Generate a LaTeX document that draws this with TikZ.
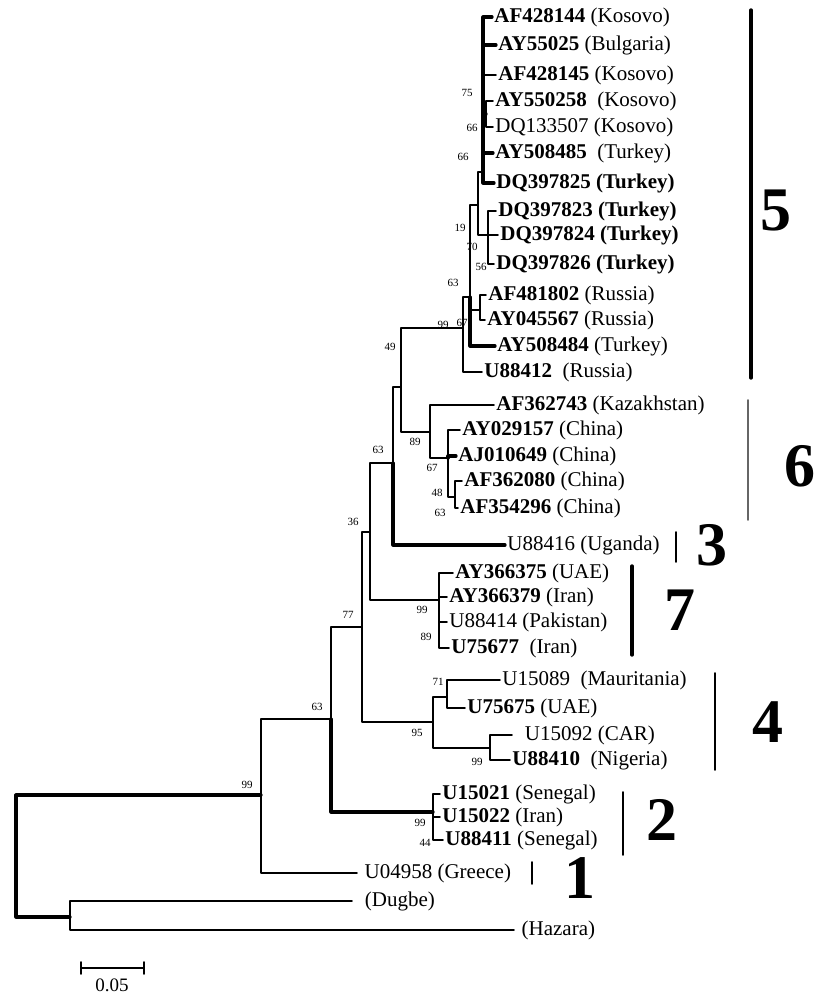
\documentclass[tikz,border=0pt]{standalone}
\usepackage{fontspec}
\setmainfont{Liberation Serif}
\usetikzlibrary{positioning}

\begin{document}
\begin{tikzpicture}[line cap=round,line join=round,x=0.5pt,y=-0.5pt,
  br/.style={line width=0.9pt},
  thk/.style={line width=1.6pt},
  tip/.style={anchor=west,inner sep=1pt,font=\fontsize{10.5}{12}\selectfont},
  bs/.style={inner sep=0pt,font=\fontsize{5.5}{6}\selectfont},
  clade/.style={font=\fontsize{31}{31}\selectfont\bfseries},
  bar/.style={line width=0.8pt},
  barthk/.style={line width=1.7pt}]
\useasboundingbox (0,0) rectangle (819,997);
% internal nodes
\coordinate (root) at (16,856);
\coordinate (ndh) at (70,917);
\coordinate (n99a) at (261,795);
\coordinate (n63a) at (331,719);
\coordinate (n77) at (362,627);
\coordinate (n36) at (370,532);
\coordinate (n63b) at (393,463);
\coordinate (n49) at (401,387);
\coordinate (n99u) at (463,328);
\coordinate (n70) at (470,297);
\coordinate (n19) at (478,205);
\coordinate (n75) at (483,172);
\coordinate (n66a) at (486,114);
\coordinate (n56) at (488,235);
\coordinate (n67r) at (480,310);
\coordinate (n89) at (430,432);
\coordinate (n67b) at (448,458);
\coordinate (n48) at (455,497);
\coordinate (n99d) at (439,600);
\coordinate (n95) at (433,722);
\coordinate (n71) at (447,697);
\coordinate (n99c) at (490,748);
\coordinate (n99b) at (433,812);
% tips
\node[tip] (AF428144) at (492,17) {\textbf{AF428144} (Kosovo)};
\node[tip] (AY55025) at (496,45) {\textbf{AY55025} (Bulgaria)};
\node[tip] (AF428145) at (496,75) {\textbf{AF428145} (Kosovo)};
\node[tip] (AY550258) at (493,101) {\textbf{AY550258}\ \ (Kosovo)};
\node[tip] (DQ133507) at (493,127) {DQ133507 (Kosovo)};
\node[tip] (AY508485) at (493,153) {\textbf{AY508485}\ \ (Turkey)};
\node[tip] (DQ397825) at (494,183) {\textbf{DQ397825 (Turkey)}};
\node[tip] (DQ397823) at (496,211) {\textbf{DQ397823 (Turkey)}};
\node[tip] (DQ397824) at (498,235) {\textbf{DQ397824 (Turkey)}};
\node[tip] (DQ397826) at (494,264) {\textbf{DQ397826 (Turkey)}};
\node[tip] (AF481802) at (486,295) {\textbf{AF481802} (Russia)};
\node[tip] (AY045567) at (485,320) {\textbf{AY045567} (Russia)};
\node[tip] (AY508484) at (495,346) {\textbf{AY508484} (Turkey)};
\node[tip] (U88412) at (482,372) {\textbf{U88412}\ \ (Russia)};
\node[tip] (AF362743) at (494,405) {\textbf{AF362743} (Kazakhstan)};
\node[tip] (AY029157) at (460,430) {\textbf{AY029157} (China)};
\node[tip] (AJ010649) at (456,456) {\textbf{AJ010649} (China)};
\node[tip] (AF362080) at (462,481) {\textbf{AF362080} (China)};
\node[tip] (AF354296) at (458,508) {\textbf{AF354296} (China)};
\node[tip] (U88416) at (505,545) {U88416 (Uganda)};
\node[tip] (AY366375) at (453,573) {\textbf{AY366375} (UAE)};
\node[tip] (AY366379) at (447,597) {\textbf{AY366379} (Iran)};
\node[tip] (U88414) at (447,622) {U88414 (Pakistan)};
\node[tip] (U75677) at (449,648) {\textbf{U75677}\ \ (Iran)};
\node[tip] (U15089) at (500,680) {U15089\ \ (Mauritania)};
\node[tip] (U75675) at (465,708) {\textbf{U75675} (UAE)};
\node[tip] (U15092) at (512,735) {\ \ U15092 (CAR)};
\node[tip] (U88410) at (510,760) {\textbf{U88410}\ \ (Nigeria)};
\node[tip] (U15021) at (440,794) {\textbf{U15021} (Senegal)};
\node[tip] (U15022) at (440,817) {\textbf{U15022} (Iran)};
\node[tip] (U88411) at (443,840) {\textbf{U88411} (Senegal)};
\node[tip] (U04958) at (357,873) {\ U04958 (Greece)};
\node[tip] (Dugbe) at (352,901) {\ \ (Dugbe)};
\node[tip] (Hazara) at (514,930) {\ (Hazara)};
% branches
\draw [thk] (root) |- (n99a);
\draw [thk] (root) |- (ndh);
\draw [br] (ndh) |- (Dugbe.west);
\draw [br] (ndh) |- (Hazara.west);
\draw [br] (n99a) |- (n63a);
\draw [br] (n99a) |- (U04958.west);
\draw [br] (n63a) |- (n77);
\draw [thk] (n63a) |- (n99b);
\draw [br] (n77) |- (n36);
\draw [br] (n77) |- (n95);
\draw [br] (n36) |- (n63b);
\draw [br] (n36) |- (n99d);
\draw [br] (n63b) |- (n49);
\draw [thk] (n63b) |- (U88416.west);
\draw [br] (n49) |- (n99u);
\draw [br] (n49) |- (n89);
\draw [br] (n99u) |- (n70);
\draw [br] (n99u) |- (U88412.west);
\draw [br] (n70) |- (n19);
\draw [br] (n70) |- (n67r);
\draw [thk] (n70) |- (AY508484.west);
\draw [br] (n19) |- (n75);
\draw [br] (n19) |- (n56);
\draw [thk] (n75) |- (AF428144.west);
\draw [thk] (n75) |- (AY55025.west);
\draw [br] (n75) |- (AF428145.west);
\draw [thk] (n75) |- (n66a);
\draw [thk] (n75) |- (AY508485.west);
\draw [thk] (n75) |- (DQ397825.west);
\draw [br] (n66a) |- (AY550258.west);
\draw [br] (n66a) |- (DQ133507.west);
\draw [br] (n56) |- (DQ397823.west);
\draw [br] (n56) |- (DQ397824.west);
\draw [br] (n56) |- (DQ397826.west);
\draw [br] (n67r) |- (AF481802.west);
\draw [br] (n67r) |- (AY045567.west);
\draw [br] (n89) |- (AF362743.west);
\draw [br] (n89) |- (n67b);
\draw [br] (n67b) |- (AY029157.west);
\draw [thk] (n67b) |- (AJ010649.west);
\draw [br] (n67b) |- (n48);
\draw [br] (n48) |- (AF362080.west);
\draw [br] (n48) |- (AF354296.west);
\draw [br] (n99d) |- (AY366375.west);
\draw [br] (n99d) |- (AY366379.west);
\draw [br] (n99d) |- (U88414.west);
\draw [br] (n99d) |- (U75677.west);
\draw [br] (n95) |- (n71);
\draw [br] (n95) |- (n99c);
\draw [br] (n71) |- (U15089.west);
\draw [br] (n71) |- (U75675.west);
\draw [br] (n99c) |- (U15092.west);
\draw [br] (n99c) |- (U88410.west);
\draw [br] (n99b) |- (U15021.west);
\draw [br] (n99b) |- (U15022.west);
\draw [br] (n99b) |- (U88411.west);
% bootstrap values
\node[bs] (b75) at (467,93) {75};
\node[bs] (b66a) at (472,128) {66};
\node[bs] (b66b) at (463,157) {66};
\node[bs] (b19) at (460,228) {19};
\node[bs] (b70) at (472,247) {70};
\node[bs] (b56) at (481,267) {56};
\node[bs] (b63c) at (453,283) {63};
\node[bs] (b99u) at (443,325) {99};
\node[bs] (b67r) at (462,323) {67};
\node[bs] (b49) at (390,347) {49};
\node[bs] (b89a) at (415,442) {89};
\node[bs] (b67b) at (432,468) {67};
\node[bs] (b48) at (437,493) {48};
\node[bs] (b63d) at (440,513) {63};
\node[bs] (b63b) at (378,450) {63};
\node[bs] (b36) at (353,522) {36};
\node[bs] (b99d) at (422,610) {99};
\node[bs] (b89b) at (426,637) {89};
\node[bs] (b77) at (348,615) {77};
\node[bs] (b71) at (438,682) {71};
\node[bs] (b95) at (417,733) {95};
\node[bs] (b99c) at (477,762) {99};
\node[bs] (b63a) at (317,707) {63};
\node[bs] (b99a) at (247,785) {99};
\node[bs] (b99b) at (420,823) {99};
\node[bs] (b44) at (425,843) {44};
% clade bars and numbers
\draw [barthk] (751,10) -- (751,378);
\node[clade] (c5) at (776,210) {5};
\draw [bar,gray!80!black] (748,400) -- (748,520);
\node[clade] (c6) at (800,466) {6};
\draw [bar] (676,532) -- (676,562);
\node[clade] (c3) at (712,545) {3};
\draw [barthk] (632,566) -- (632,655);
\node[clade] (c7) at (680,610) {7};
\draw [bar] (715,673) -- (715,770);
\node[clade] (c4) at (768,722) {4};
\draw [bar] (623,792) -- (623,855);
\node[clade] (c2) at (662,820) {2};
\draw [bar] (532,862) -- (532,884);
\node[clade] (c1) at (580,878) {1};
% scale bar
\coordinate (s1) at (81,968);
\coordinate (s2) at (144,968);
\draw [br] ([yshift=3]s1) -- ([yshift=-3]s1);
\draw [br] ([yshift=3]s2) -- ([yshift=-3]s2);
\draw [br] (s1) -- (s2);
\node[inner sep=0pt,font=\fontsize{9.5}{10}\selectfont] (scl) at (112,985) {0.05};
\end{tikzpicture}
\end{document}
